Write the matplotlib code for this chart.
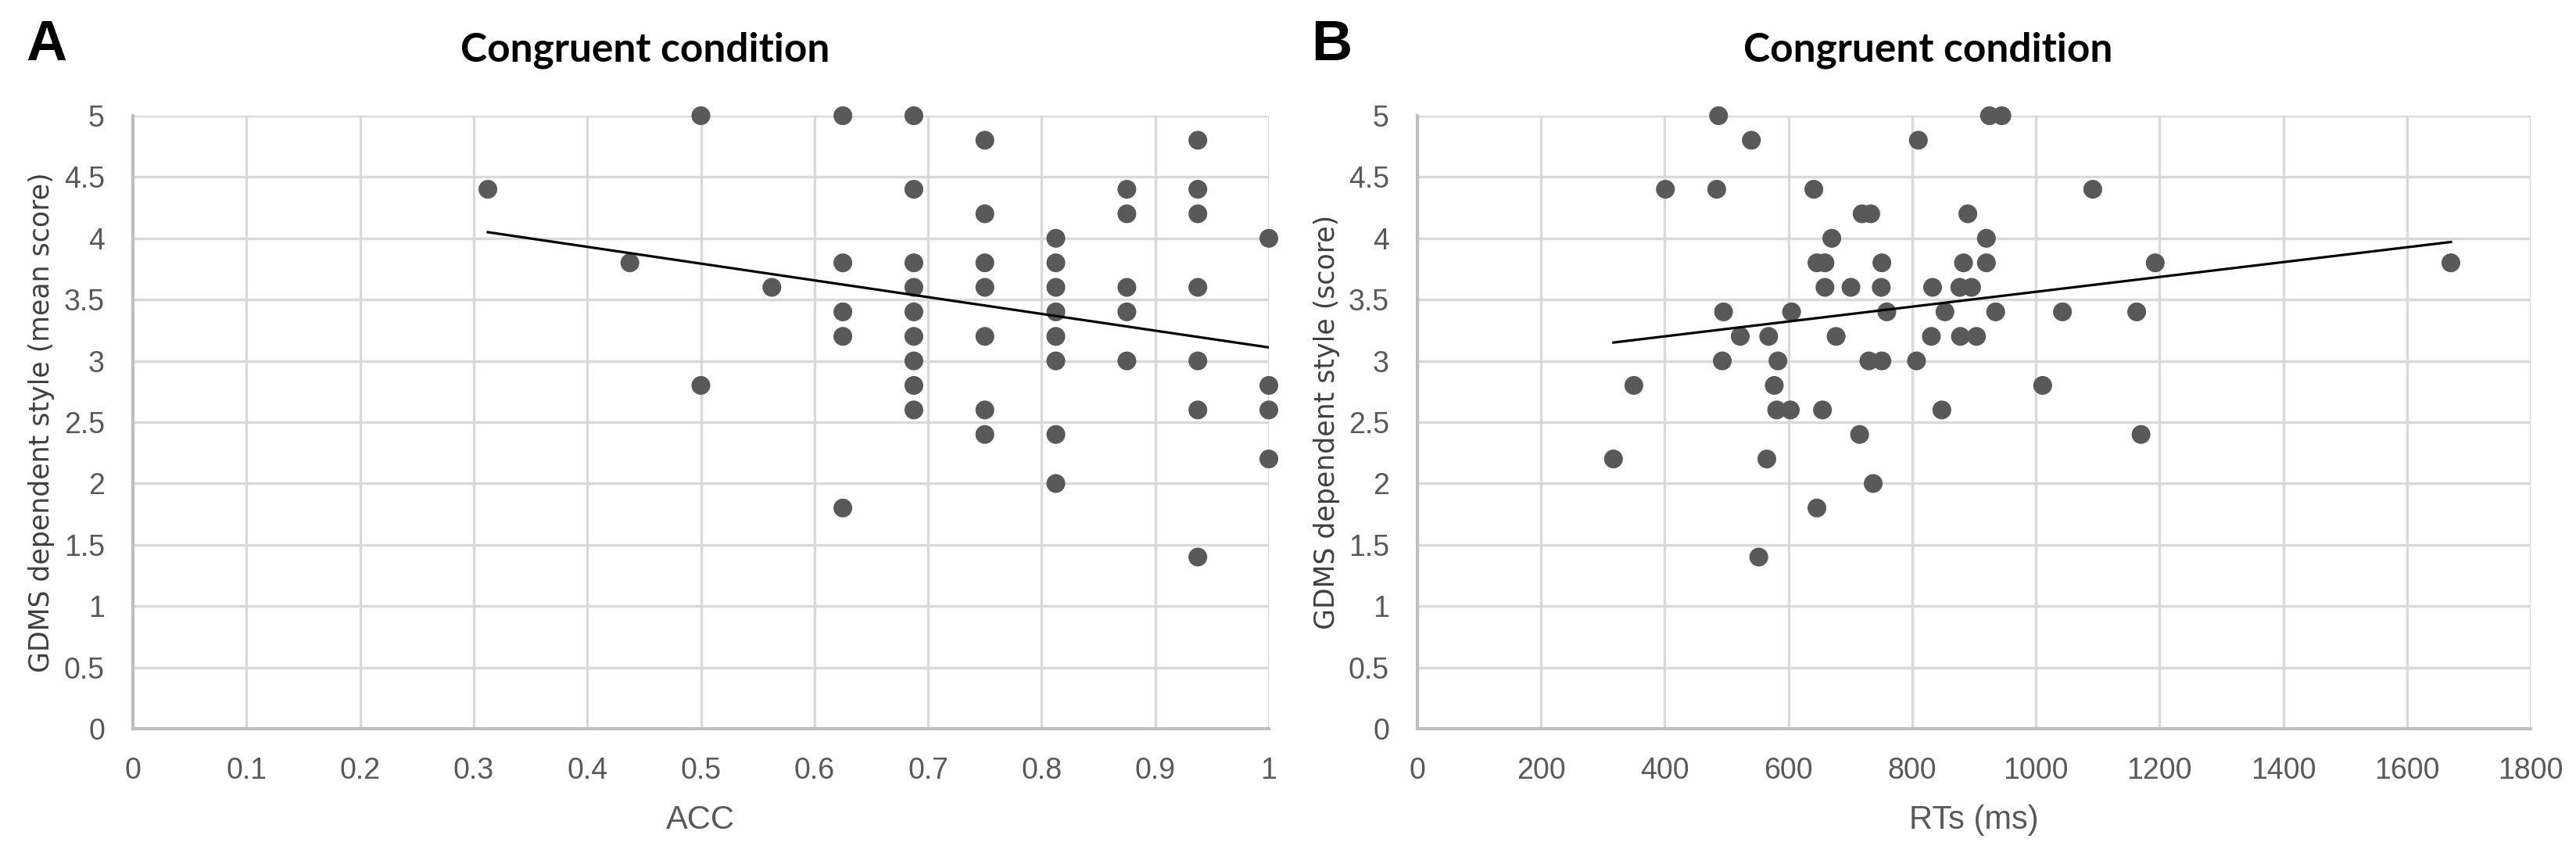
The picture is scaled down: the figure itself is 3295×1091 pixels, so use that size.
import matplotlib
matplotlib.use("Agg")
import matplotlib.pyplot as plt
import numpy as np
import logging
logging.getLogger("matplotlib.font_manager").setLevel(logging.ERROR)

# ---------------- data ----------------
acc_x = [0.3125, 0.4375, 0.5, 0.5, 0.5625,
         0.625, 0.625, 0.625, 0.625, 0.625,
         0.6875, 0.6875, 0.6875, 0.6875, 0.6875, 0.6875, 0.6875, 0.6875, 0.6875,
         0.75, 0.75, 0.75, 0.75, 0.75, 0.75, 0.75,
         0.8125, 0.8125, 0.8125, 0.8125, 0.8125, 0.8125, 0.8125, 0.8125,
         0.875, 0.875, 0.875, 0.875, 0.875,
         0.9375, 0.9375, 0.9375, 0.9375, 0.9375, 0.9375, 0.9375,
         1.0, 1.0, 1.0, 1.0]
acc_y = [4.4, 3.8, 5.0, 2.8, 3.6,
         5.0, 3.8, 3.4, 3.2, 1.8,
         5.0, 4.4, 3.8, 3.6, 3.4, 3.2, 3.0, 2.8, 2.6,
         4.8, 4.2, 3.8, 3.6, 3.2, 2.6, 2.4,
         4.0, 3.8, 3.6, 3.4, 3.2, 3.0, 2.4, 2.0,
         4.4, 4.2, 3.6, 3.4, 3.0,
         4.8, 4.4, 4.2, 3.6, 3.0, 2.6, 1.4,
         4.0, 2.8, 2.6, 2.2]

rt_x = [487, 925, 945,
        540, 810,
        401, 484, 641, 1092,
        719, 733, 890,
        670, 920,
        646, 659, 751, 883, 920, 1193, 1671,
        659, 701, 750, 833, 877, 896,
        495, 605, 759, 853, 935, 1043, 1163,
        522, 568, 677, 831, 878, 904,
        493, 583, 730, 751, 807,
        350, 577, 1011,
        581, 603, 655, 848,
        715, 1170,
        317, 565,
        737,
        646,
        552]
rt_y = [5.0, 5.0, 5.0,
        4.8, 4.8,
        4.4, 4.4, 4.4, 4.4,
        4.2, 4.2, 4.2,
        4.0, 4.0,
        3.8, 3.8, 3.8, 3.8, 3.8, 3.8, 3.8,
        3.6, 3.6, 3.6, 3.6, 3.6, 3.6,
        3.4, 3.4, 3.4, 3.4, 3.4, 3.4, 3.4,
        3.2, 3.2, 3.2, 3.2, 3.2, 3.2,
        3.0, 3.0, 3.0, 3.0, 3.0,
        2.8, 2.8, 2.8,
        2.6, 2.6, 2.6, 2.6,
        2.4, 2.4,
        2.2, 2.2,
        2.0,
        1.8,
        1.4]

trend_a_x = [0.3125, 1.0]
trend_a_y = [4.05, 3.11]
trend_b_x = [317, 1671]
trend_b_y = [3.15, 3.97]

y_ticks = [0, 0.5, 1, 1.5, 2, 2.5, 3, 3.5, 4, 4.5, 5]
y_ticklabels = ["0", "0.5", "1", "1.5", "2", "2.5", "3", "3.5", "4", "4.5", "5"]
acc_ticks = [0, 0.1, 0.2, 0.3, 0.4, 0.5, 0.6, 0.7, 0.8, 0.9, 1.0]
acc_ticklabels = ["0", "0.1", "0.2", "0.3", "0.4", "0.5", "0.6", "0.7", "0.8", "0.9", "1"]
rt_ticks = [0, 200, 400, 600, 800, 1000, 1200, 1400, 1600, 1800]
rt_ticklabels = ["0", "200", "400", "600", "800", "1000", "1200", "1400", "1600", "1800"]

title_text = "Congruent condition"
ylabel_a = "GDMS dependent style (mean score)"
ylabel_b = "GDMS dependent style (score)"
xlabel_a = "ACC"
xlabel_b = "RTs (ms)"

# ---------------- figure ----------------
W, H = 3295, 1091
fig = plt.figure(figsize=(W / 100, H / 100), dpi=100)
fig.patch.set_facecolor("white")

NARROW = ["Liberation Sans Narrow", "Liberation Sans", "DejaVu Sans"]
GRID = "#d9d9d9"
AXIS = "#bfbfbf"
TXT = "#595959"
DOT = "#595959"


def fx(px):
    return px / W


def fy(py):
    return (H - py) / H


def setup(ax, xt, xtl, xmax):
    ax.set_xlim(0, xmax)
    ax.set_ylim(0, 5)
    ax.set_xticks(xt)
    ax.set_xticklabels(xtl)
    ax.set_yticks(y_ticks)
    ax.set_yticklabels(y_ticklabels)
    for s in ["top", "right"]:
        ax.spines[s].set_visible(False)
    for s in ["left", "bottom"]:
        ax.spines[s].set_color(AXIS)
        ax.spines[s].set_linewidth(3.0)
        ax.spines[s].set_zorder(2.5)
    ax.grid(True, color=GRID, linewidth=2.4, zorder=0)
    ax.set_axisbelow(True)
    ax.tick_params(length=0, pad=26, labelcolor=TXT)
    for lab in ax.get_xticklabels() + ax.get_yticklabels():
        lab.set_family(NARROW)
        lab.set_fontsize(27)


# Panel A
axA = fig.add_axes([fx(170), fy(932), fx(1623) - fx(170), fy(148) - fy(932)])
setup(axA, acc_ticks, acc_ticklabels, 1.0)
axA.scatter(acc_x, acc_y, s=300, color=DOT, edgecolors="none", zorder=3, clip_on=False)
axA.plot(trend_a_x, trend_a_y, color="black", linewidth=2.3, zorder=4)

# Panel B
axB = fig.add_axes([fx(1813), fy(932), fx(3237) - fx(1813), fy(148) - fy(932)])
setup(axB, rt_ticks, rt_ticklabels, 1800)
axB.scatter(rt_x, rt_y, s=300, color=DOT, edgecolors="none", zorder=3, clip_on=False)
axB.plot(trend_b_x, trend_b_y, color="black", linewidth=2.3, zorder=4)

# Titles
fig.text(fx(825), fy(79), title_text, ha="center", va="baseline",
         fontsize=37, fontweight="bold", family=["Lato", "DejaVu Sans"], color="black")
fig.text(fx(2466), fy(79), title_text, ha="center", va="baseline",
         fontsize=37, fontweight="bold", family=["Lato", "DejaVu Sans"], color="black")

# Panel letters
fig.text(fx(33), fy(77), "A", ha="left", va="baseline",
         fontsize=52, fontweight="bold", family=["Liberation Sans", "DejaVu Sans"], color="black")
fig.text(fx(1677), fy(77), "B", ha="left", va="baseline",
         fontsize=52, fontweight="bold", family=["Liberation Sans", "DejaVu Sans"], color="black")

# Axis titles
fig.text(fx(896), fy(1060), xlabel_a, ha="center", va="baseline",
         fontsize=30, family=NARROW, color=TXT)
fig.text(fx(2525), fy(1060), xlabel_b, ha="center", va="baseline",
         fontsize=30, family=NARROW, color=TXT)
fig.text(fx(53), fy(540), ylabel_a, ha="center", va="center", rotation=90,
         fontsize=25, family=["DejaVu Sans"], color="#404040")
fig.text(fx(1697), fy(540), ylabel_b, ha="center", va="center", rotation=90,
         fontsize=25, family=["DejaVu Sans"], color="#404040")

fig.savefig("out.png", dpi=100, facecolor="white")
